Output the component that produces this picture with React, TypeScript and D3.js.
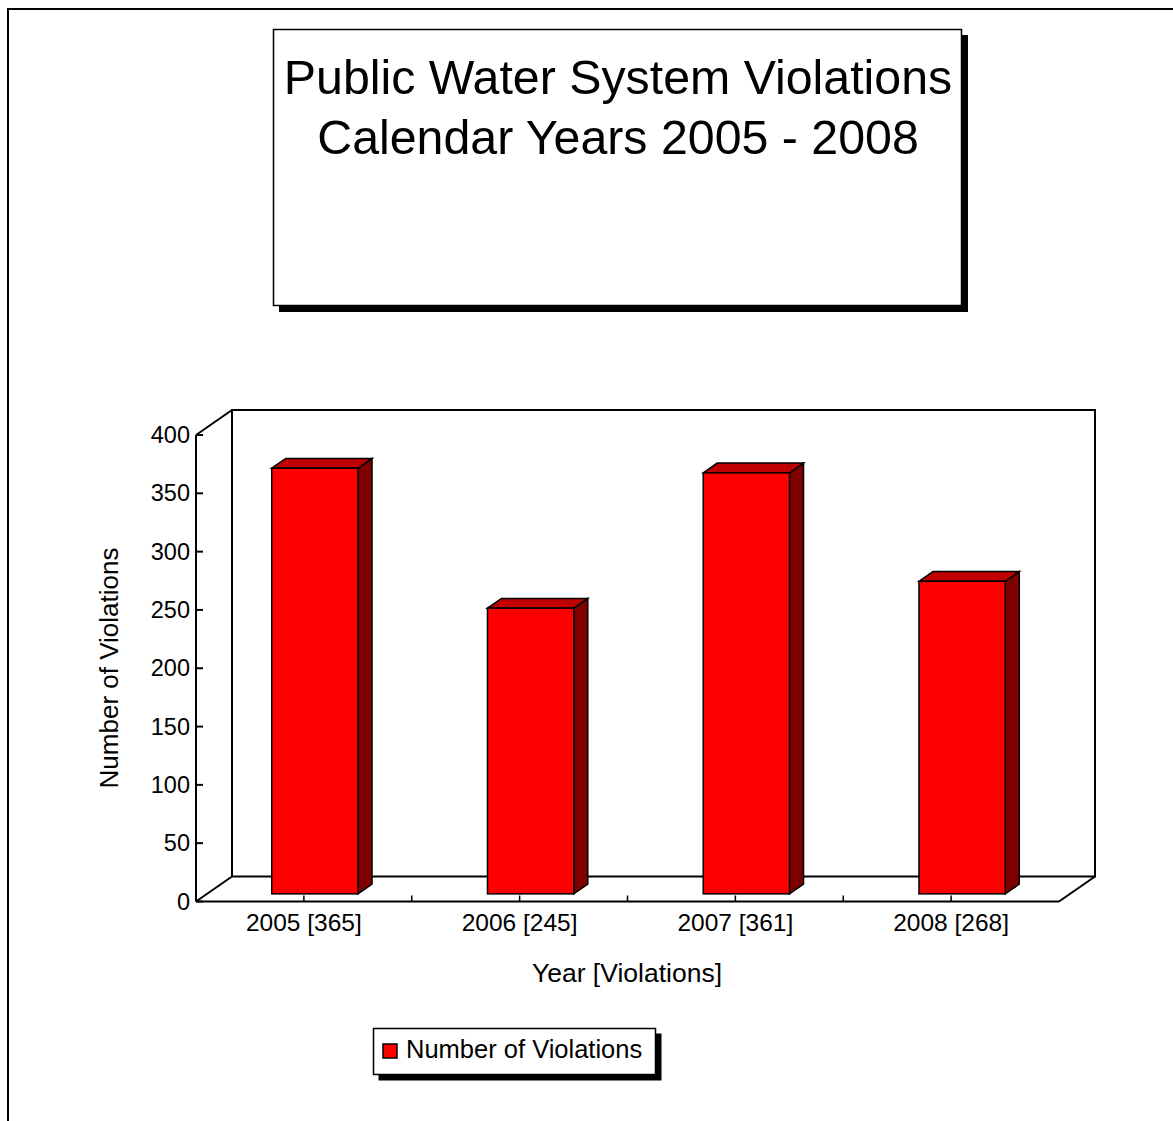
import React from "react";
import * as d3 from "d3";

const years = ["2005", "2006", "2007", "2008"];
const violations = [365, 245, 361, 268];
const yTicks = [0, 50, 100, 150, 200, 250, 300, 350, 400];
const titleLines = ["Public Water System Violations", "Calendar Years 2005 - 2008"];
const seriesName = "Number of Violations";

const FONT = "'Liberation Sans', Arial, sans-serif";

export default function App() {
  // plot frame (front face of the 3D box)
  const left = 196;
  const right = 1059;
  const bottom = 901.5;
  const top = 435;
  const depthX = 36;
  const depthY = 25;

  const x = d3.scaleBand<string>().domain(years).range([left, right]).padding(0);
  const y = d3.scaleLinear().domain([0, 400]).range([bottom, top]);

  const barFrac = 0.4;
  const barDepth = 14; // x extent of the bar side
  const barOffX = (depthX - barDepth) / 2;
  const barOffY = (barOffX * depthY) / depthX;
  const sideY = (barDepth * depthY) / depthX;

  const bw = x.bandwidth() * barFrac;

  return (
    <svg
      width={1173}
      height={1121}
      style={{ position: "absolute", left: 0, top: 0, background: "#fff" }}
      fontFamily={FONT}
    >
      {/* page frame */}
      <rect x={8} y={9} width={1200} height={1200} fill="none" stroke="#000" strokeWidth={2} />

      {/* title box with shadow */}
      <rect x={279} y={35} width={689} height={277} fill="#000" />
      <rect x={273.5} y={29.5} width={688} height={276} fill="#fff" stroke="#000" strokeWidth={1.5} />
      {titleLines.map((t, i) => (
        <text key={t} x={618} y={93.5 + i * 60} textAnchor="middle" fontSize={48.3} fill="#000">
          {t}
        </text>
      ))}

      {/* back wall and floor */}
      <g stroke="#000" strokeWidth={2} fill="none">
        <rect x={left + depthX} y={top - depthY} width={right - left} height={bottom - top} />
        <line x1={left} y1={top} x2={left + depthX} y2={top - depthY} />
        <line x1={left} y1={bottom} x2={left + depthX} y2={bottom - depthY} />
        <line x1={right} y1={bottom} x2={right + depthX} y2={bottom - depthY} />
        <line x1={left} y1={top} x2={left} y2={bottom} />
        <line x1={left} y1={bottom} x2={right} y2={bottom} />
      </g>

      {/* y ticks */}
      {yTicks.map((v) => (
        <g key={v}>
          <line x1={left} x2={left + 7} y1={y(v)} y2={y(v)} stroke="#000" strokeWidth={2} />
          <text x={190} y={y(v) + 8} textAnchor="end" fontSize={23.5} fill="#000">
            {v}
          </text>
        </g>
      ))}

      {/* x ticks at band edges and centers */}
      {years.map((yr, i) => {
        const x0 = x(yr)!;
        const xc = x0 + x.bandwidth() / 2;
        return (
          <g key={yr}>
            <line x1={xc} x2={xc} y1={bottom} y2={bottom - 6} stroke="#000" strokeWidth={1.5} />
            {i > 0 && (
              <line x1={x0} x2={x0} y1={bottom} y2={bottom - 6} stroke="#000" strokeWidth={1.5} />
            )}
            <text x={xc} y={931} textAnchor="middle" fontSize={24.5} fill="#000">
              {`${yr} [${violations[i]}]`}
            </text>
          </g>
        );
      })}

      {/* bars */}
      {years.map((yr, i) => {
        const xc = x(yr)! + x.bandwidth() / 2;
        const fx0 = xc - bw / 2 + barOffX;
        const fx1 = fx0 + bw;
        const fyB = bottom - barOffY;
        const fyT = y(violations[i]) - barOffY;
        const topFace = `M${fx0},${fyT} L${fx0 + barDepth},${fyT - sideY} L${fx1 + barDepth},${fyT - sideY} L${fx1},${fyT} Z`;
        const sideFace = `M${fx1},${fyT} L${fx1 + barDepth},${fyT - sideY} L${fx1 + barDepth},${fyB - sideY} L${fx1},${fyB} Z`;
        return (
          <g key={yr} stroke="#000" strokeWidth={1.5} strokeLinejoin="miter">
            <path d={sideFace} fill="#800000" />
            <path d={topFace} fill="#C00000" />
            <rect x={fx0} y={fyT} width={bw} height={fyB - fyT} fill="#FF0000" />
          </g>
        );
      })}

      {/* axis titles */}
      <text x={627} y={982} textAnchor="middle" fontSize={26.5} fill="#000">
        Year [Violations]
      </text>
      <text
        transform={`translate(118,668) rotate(-90)`}
        textAnchor="middle"
        fontSize={26}
        fill="#000"
      >
        Number of Violations
      </text>

      {/* legend */}
      <rect x={378.5} y={1033.5} width={283} height={47} fill="#000" />
      <rect x={373.5} y={1028.5} width={282} height={46} fill="#fff" stroke="#000" strokeWidth={1.5} />
      <rect x={383} y={1044} width={14} height={14} fill="#FF0000" stroke="#000" strokeWidth={1.5} />
      <text x={406} y={1057.5} fontSize={25.5} fill="#000">
        {seriesName}
      </text>
    </svg>
  );
}
